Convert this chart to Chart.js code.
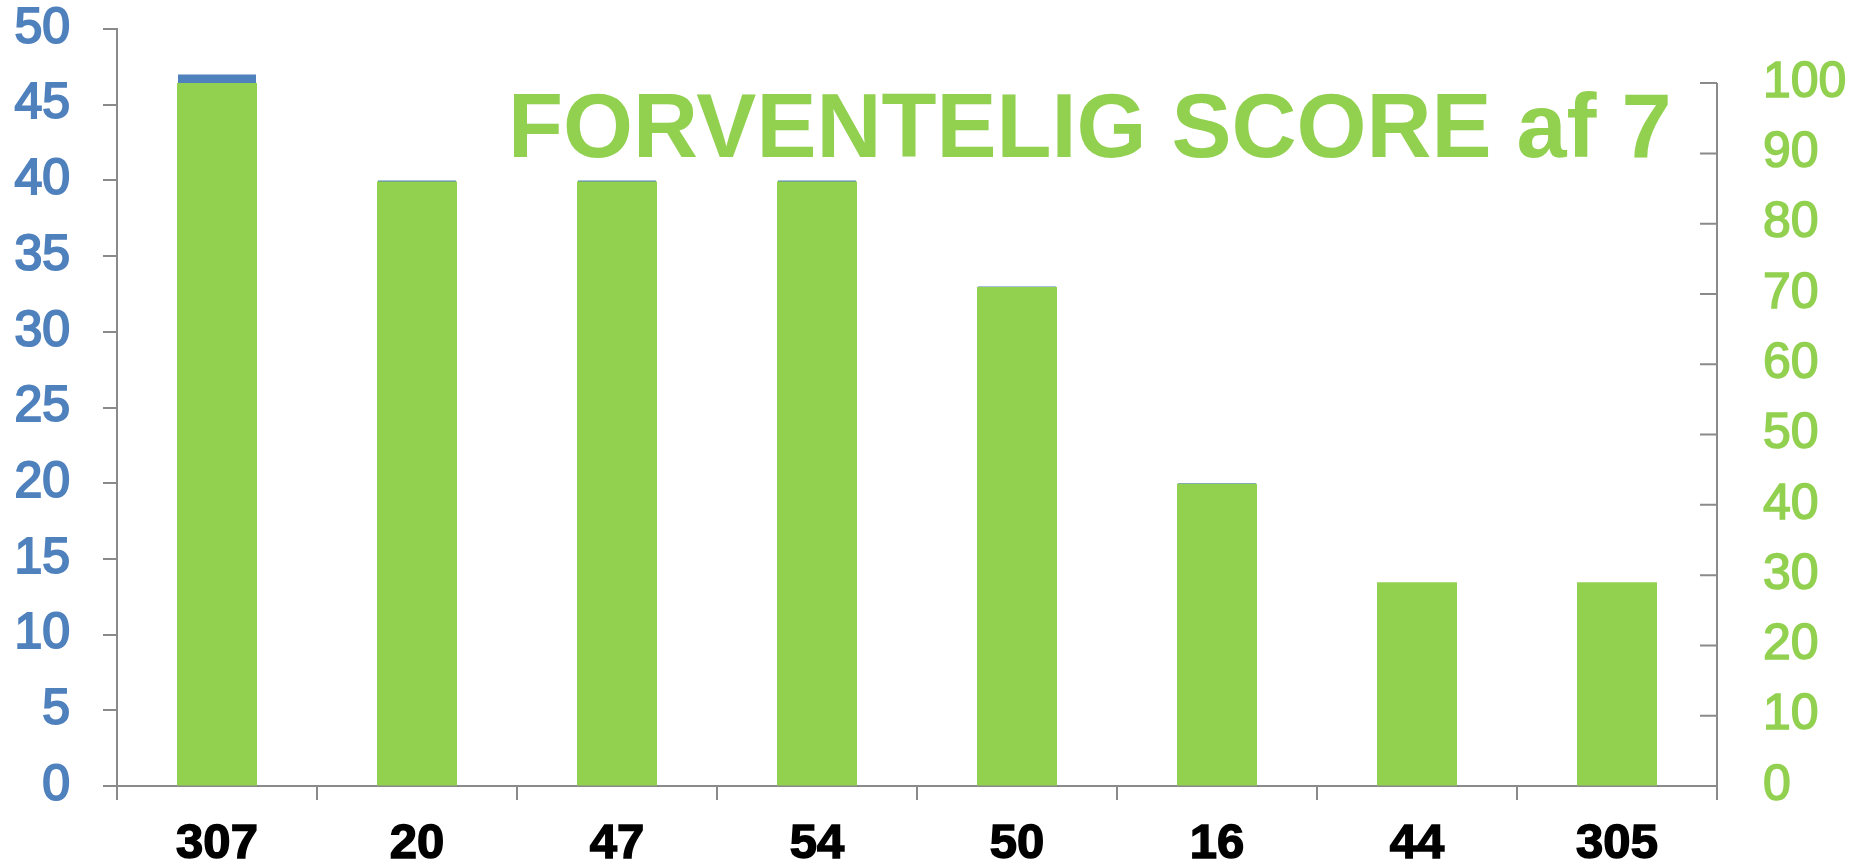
<!DOCTYPE html>
<html>
<head>
<meta charset="utf-8">
<script src="https://cdn.jsdelivr.net/npm/chart.js@4.4.1/dist/chart.umd.min.js"></script>
<style>
  html, body { margin: 0; padding: 0; background: #fff; }
  #wrap { width: 1856px; height: 863px; position: relative; }
</style>
</head>
<body>
<div id="wrap"><canvas id="scoreChart"></canvas></div>
<script>
const categories = ['307', '20', '47', '54', '50', '16', '44', '305'];
const antal = [47, 40, 40, 40, 33, 20, 13, 13];
const score = [100, 86, 86, 86, 71, 43, 29, 29];
const leftTicks = [0, 5, 10, 15, 20, 25, 30, 35, 40, 45, 50];
const rightTicks = [0, 10, 20, 30, 40, 50, 60, 70, 80, 90, 100];

const BLUE = '#4F81BD';
const GREEN = '#92D050';
const AXIS = '#8a8a8a';
const FONT = '"Liberation Sans", Arial, sans-serif';

// right axis shares the plot height but tops out lower, so its max runs past 100
const RIGHT_MAX = 107.7;

// big label padding would otherwise push the plot top down
function fixWidth(w) {
  return scale => {
    scale.width = w;
    scale.paddingTop = 0;
    scale.paddingBottom = 0;
  };
}

// right axis line + inward ticks, stopping at 100
const rightAxisLine = {
  id: 'rightAxisLine',
  afterDraw(chart) {
    const s = chart.scales.y2;
    const ctx = chart.ctx;
    const x = s.left;
    ctx.save();
    ctx.strokeStyle = AXIS;
    ctx.lineWidth = 2;
    ctx.beginPath();
    ctx.moveTo(x, s.getPixelForValue(rightTicks[rightTicks.length - 1]));
    ctx.lineTo(x, s.getPixelForValue(0) + 12);
    rightTicks.forEach(v => {
      const y = s.getPixelForValue(v);
      ctx.moveTo(x - 17, y);
      ctx.lineTo(x, y);
    });
    ctx.stroke();
    ctx.restore();
  }
};

const headline = {
  id: 'headline',
  afterDraw(chart) {
    const ctx = chart.ctx;
    ctx.save();
    ctx.font = 'bold 90px ' + FONT;
    ctx.fillStyle = GREEN;
    ctx.textAlign = 'left';
    ctx.textBaseline = 'alphabetic';
    ctx.fillText('FORVENTELIG SCORE af 7', 508, 157);
    ctx.restore();
  }
};

new Chart(document.getElementById('scoreChart'), {
  type: 'bar',
  data: {
    labels: categories,
    datasets: [
      {
        label: 'Antal',
        data: antal,
        yAxisID: 'y',
        order: 1,
        backgroundColor: BLUE,
        borderWidth: 0,
        barPercentage: 0.39,
        categoryPercentage: 1
      },
      {
        label: 'Forventelig score',
        data: score,
        yAxisID: 'y2',
        order: 0,
        backgroundColor: GREEN,
        borderWidth: 0,
        barPercentage: 0.4,
        categoryPercentage: 1
      }
    ]
  },
  options: {
    responsive: true,
    maintainAspectRatio: false,
    animation: false,
    grouped: false,
    layout: { padding: { top: 29, left: 0, right: 0, bottom: 0 } },
    plugins: {
      legend: { display: false },
      tooltip: { enabled: false }
    },
    scales: {
      x: {
        offset: true,
        grid: {
          offset: true,
          drawOnChartArea: false,
          drawTicks: true,
          tickLength: 14,
          color: AXIS,
          lineWidth: 2
        },
        border: { color: AXIS, width: 2 },
        ticks: {
          color: '#000',
          font: { family: FONT, size: 49, weight: 'bold', lineHeight: 1 },
          textStrokeColor: '#000',
          textStrokeWidth: 1.5,
          padding: 20,
          maxRotation: 0
        },
        afterFit(scale) { scale.height = 77; }
      },
      y: {
        position: 'left',
        min: 0,
        max: 50,
        afterBuildTicks(scale) { scale.ticks = leftTicks.map(v => ({ value: v })); },
        grid: {
          drawOnChartArea: false,
          drawTicks: true,
          tickLength: 14,
          color: AXIS,
          lineWidth: 2
        },
        border: { color: AXIS, width: 2 },
        ticks: {
          color: BLUE,
          font: { family: FONT, size: 50, lineHeight: 1 },
          textStrokeColor: BLUE,
          textStrokeWidth: 2,
          padding: 33
        },
        afterFit: fixWidth(117)
      },
      y2: {
        position: 'right',
        min: 0,
        max: RIGHT_MAX,
        afterBuildTicks(scale) { scale.ticks = rightTicks.map(v => ({ value: v })); },
        grid: { drawOnChartArea: false, drawTicks: false },
        border: { display: false },
        ticks: {
          color: GREEN,
          font: { family: FONT, size: 50, lineHeight: 1 },
          textStrokeColor: GREEN,
          textStrokeWidth: 1.5,
          padding: 46
        },
        afterFit: fixWidth(139)
      }
    }
  },
  plugins: [rightAxisLine, headline]
});
</script>
</body>
</html>
